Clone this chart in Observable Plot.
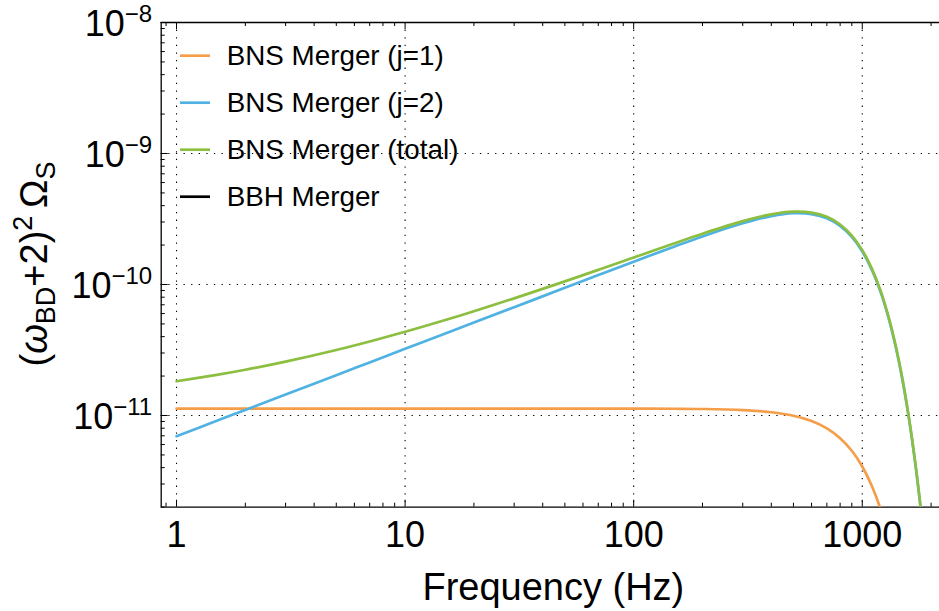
<!DOCTYPE html>
<html><head><meta charset="utf-8">
<script src="https://cdn.jsdelivr.net/npm/d3@7"></script>
<script src="https://cdn.jsdelivr.net/npm/@observablehq/plot@0.6"></script>
<style>
html,body{margin:0;padding:0;background:#fff;}
#chart svg{display:block;}
</style></head><body><div id="chart"></div>
<script>
// ---- data ----
const freq = [1,1.5,2,3,5,7,10,15,20,30,50,70,100,150,200,300,400,500,600,700,800,900,1000,1100,1200,1300,1400,1500,1600,1700,1800,1900];
const bnsJ1 = [1.13e-11,1.13e-11,1.13e-11,1.13e-11,1.13e-11,1.13e-11,1.13e-11,1.13e-11,1.13e-11,1.13e-11,1.13e-11,1.13e-11,1.129e-11,1.126e-11,1.121e-11,1.099e-11,1.059e-11,9.95e-12,9.07e-12,7.97e-12,6.71e-12,5.38e-12,4.08e-12,2.91e-12,1.95e-12,1.21e-12,6.9e-13,3.6e-13,1.7e-13,7.6e-14,2.9e-14,1.1e-14];
const bnsJ2 = [6.95e-12,9.11e-12,1.103e-11,1.446e-11,2.032e-11,2.543e-11,3.226e-11,4.227e-11,5.121e-11,6.71e-11,9.43e-11,1.18e-10,1.492e-10,1.942e-10,2.328e-10,2.934e-10,3.328e-10,3.5e-10,3.45e-10,3.204e-10,2.802e-10,2.307e-10,1.788e-10,1.3e-10,8.86e-11,5.64e-11,3.35e-11,1.85e-11,9.47e-12,4.48e-12,1.96e-12,7.96e-13];
const bnsTotal = [1.825e-11,2.041e-11,2.233e-11,2.576e-11,3.162e-11,3.673e-11,4.356e-11,5.357e-11,6.251e-11,7.84e-11,1.056e-10,1.293e-10,1.605e-10,2.055e-10,2.44e-10,3.044e-10,3.434e-10,3.6e-10,3.541e-10,3.284e-10,2.869e-10,2.361e-10,1.829e-10,1.329e-10,9.06e-11,5.76e-11,3.42e-11,1.89e-11,9.64e-12,4.56e-12,1.99e-12,8.0e-13];
const legendLabels = ["BNS Merger (j=1)","BNS Merger (j=2)","BNS Merger (total)","BBH Merger"];
const legendColors = ["#f59e4a","#50b2e2","#8cbe40","#000000"];
const xMajor = [1,10,100,1000];
const xMinor = [0.9,2,3,4,5,6,7,8,9,20,30,40,50,60,70,80,90,200,300,400,500,600,700,800,900,2000];
const yMajor = [1e-11,1e-10,1e-9,1e-8];
const yMinor = [1e-12,1e-11,1e-10,1e-9].flatMap(p => [2,3,4,5,6,7,8,9].map(k => k*p));
const xDomain = [0.857, 2177];
const yDomain = [1.995e-12, 1e-8];

// ---- layout ----
const W = 939, H = 611;
const mL = 160.7, mR = 0, mT = 22, mB = 104.3;
const frameW = W - mL - mR, frameH = H - mT - mB;
const FONT = "'Liberation Sans', Arial, Helvetica, sans-serif";
const grid = {stroke: "#000", strokeOpacity: 1, strokeWidth: 1.1, strokeDasharray: "1.3,6.3"};
const frameLine = {stroke: "#000", strokeWidth: 1.3};
const tk = {stroke: "#000", strokeWidth: 1};
const lineOpts = (arr, c) => ({x: d => d, y: (d, i) => arr[i], stroke: c, strokeWidth: 2.7, curve: "catmull-rom", clip: true});

const chart = Plot.plot({
  width: W, height: H,
  marginLeft: mL, marginRight: mR, marginTop: mT, marginBottom: mB,
  style: {fontFamily: FONT, fontSize: "36px", color: "#000", background: "#fff"},
  x: {type: "log", domain: xDomain},
  y: {type: "log", domain: yDomain},
  marks: [
    Plot.gridX(xMajor, grid),
    Plot.gridY(yMajor, grid),
    Plot.ruleX([xDomain[0]], frameLine),
    Plot.ruleY([yDomain[0]], frameLine),
    Plot.ruleY([yDomain[1]], frameLine),
    Plot.tickX(xMajor, {...tk, insetTop: frameH - 7}),
    Plot.tickX(xMinor, {...tk, insetTop: frameH - 4}),
    Plot.tickX(xMajor, {...tk, insetBottom: frameH - 7}),
    Plot.tickX(xMinor, {...tk, insetBottom: frameH - 4}),
    Plot.tickY(yMajor, {...tk, insetRight: frameW - 7}),
    Plot.tickY(yMinor, {...tk, insetRight: frameW - 4}),
    Plot.line(freq, lineOpts(bnsJ1, legendColors[0])),
    Plot.line(freq, lineOpts(bnsJ2, legendColors[1])),
    Plot.line(freq, lineOpts(bnsTotal, legendColors[2])),
    Plot.axisX({ticks: xMajor, tickSize: 0, tickPadding: 14, tickFormat: d => String(d), fontSize: 36, label: null, fill: "#000"}),
    Plot.axisY({ticks: yMajor, tickSize: 0, tickPadding: 9, tickFormat: d => String(Math.round(Math.log10(d))), fontSize: 36, label: null, dy: 2, fill: "#000"}),
    Plot.text(["Frequency (Hz)"], {frameAnchor: "bottom", lineAnchor: "bottom", dy: 92.6, dx: 3, fontSize: 38, fill: "#000"})
  ]
});

document.getElementById("chart").appendChild(chart);
const svg = d3.select(chart);

// superscript exponents on y tick labels
svg.selectAll('g[aria-label="y-axis tick label"] text').each(function () {
  const t = d3.select(this);
  const e = t.text().replace("-", "\u2212");
  t.text("");
  t.append("tspan").text("10");
  t.append("tspan").attr("dy", -14).attr("font-size", 24).text(e);
});

// y axis title
const yl = svg.append("text")
  .attr("transform", "translate(47,264) rotate(-90)")
  .attr("text-anchor", "middle").attr("font-size", 38).attr("fill", "#000").attr("font-family", FONT);
yl.append("tspan").text("(");
yl.append("tspan").attr("font-style", "italic").text("\u03C9");
yl.append("tspan").attr("font-size", 27).attr("dy", 8).text("BD");
yl.append("tspan").attr("dy", -8).text("+2)");
yl.append("tspan").attr("font-size", 27).attr("dy", -15).text("2");
yl.append("tspan").attr("dy", 15).text("\u2009\u03A9");
yl.append("tspan").attr("font-size", 27).attr("dy", 8).text("S");

// legend inside plot
const lg = svg.append("g").attr("font-family", FONT).attr("font-size", 27.8).attr("fill", "#000").attr("text-anchor", "start");
legendLabels.forEach((lab, i) => {
  const y = 55.7 + 47 * i;
  lg.append("line").attr("x1", 180).attr("x2", 210).attr("y1", y).attr("y2", y)
    .attr("stroke", legendColors[i]).attr("stroke-width", 2.7);
  lg.append("text").attr("x", 226.7).attr("y", y + 9.7).attr("text-anchor", "start").text(lab);
});
</script></body></html>
